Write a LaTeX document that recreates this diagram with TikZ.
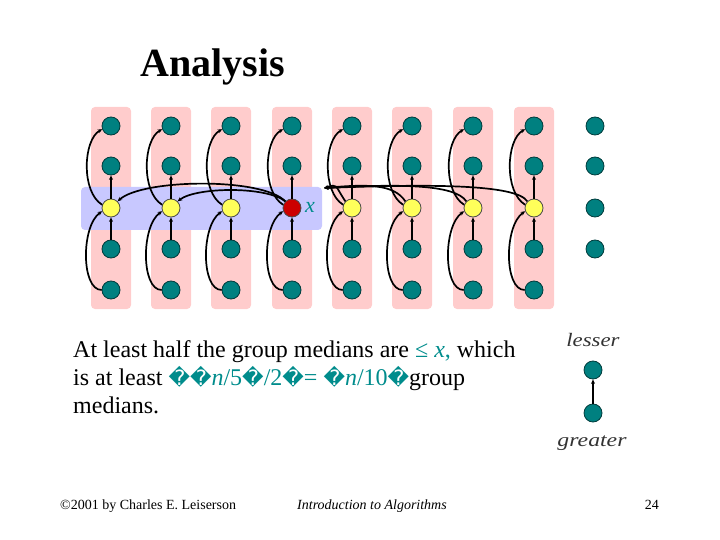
\documentclass[tikz,border=0pt]{standalone}
\usepackage{fontspec}
\setmainfont{Liberation Serif}
\newfontfamily\djv{DejaVu Sans}
\usetikzlibrary{arrows.meta}
\definecolor{tealc}{RGB}{0,128,128}
\definecolor{tealdark}{RGB}{0,60,60}
\definecolor{pinkc}{RGB}{255,204,204}
\definecolor{bandc}{RGB}{200,200,255}
\definecolor{yellowc}{RGB}{255,255,90}
\definecolor{redc}{RGB}{204,0,0}
\definecolor{txtteal}{RGB}{0,140,140}
\newcommand{\rch}{{\djv\fontsize{21}{22}\selectfont\symbol{"FFFD}}}
\begin{document}
\begin{tikzpicture}[x=1pt,y=-1pt,
  tnode/.style={circle,draw=tealdark,line width=0.8pt,fill=tealc,minimum size=18pt,inner sep=0pt},
  ynode/.style={circle,draw=black!70,line width=0.8pt,fill=yellowc,minimum size=18pt,inner sep=0pt},
  rnode/.style={circle,draw=black!70,line width=0.8pt,fill=redc,minimum size=18pt,inner sep=0pt},
  arr/.style={-{Stealth[length=4.5pt,width=4pt]},line width=1.7pt,black},
  colbox/.style={fill=pinkc,rounded corners=4pt},
  txt/.style={anchor=base west,inner sep=0pt,font=\fontsize{24}{28}\selectfont}]
\useasboundingbox (0,0) rectangle (720,540);
% title
\node[anchor=base west,inner sep=0pt,font=\fontsize{40}{44}\selectfont\bfseries] (title) at (140,77) {Analysis};
% columns
\foreach \i/\x in {1/111,2/171,3/231,4/292,5/352,6/412,7/473,8/534}{
  \fill[colbox] (\x-20,107) rectangle (\x+20,309);
}
\fill[bandc,rounded corners=4pt] (81,187) rectangle (322,230);
\foreach \i/\x in {1/111,2/171,3/231,4/292,5/352,6/412,7/473,8/534}{
  \node[tnode] (c\i r1) at (\x,126) {};
  \node[tnode] (c\i r2) at (\x,166) {};
  \ifnum\i=4
    \node[rnode] (c\i r3) at (\x,208) {};
  \else
    \node[ynode] (c\i r3) at (\x,208) {};
  \fi
  \node[tnode] (c\i r4) at (\x,249) {};
  \node[tnode] (c\i r5) at (\x,290) {};
  \draw[arr] (c\i r4) -- (c\i r3);
  \draw[arr] (c\i r3) -- (c\i r2);
  \draw[arr] (c\i r5.west) .. controls (\x-30,290) and (\x-30,226) .. (c\i r3.200);
  \draw[arr] (c\i r3.160) .. controls (\x-30,192) and (\x-28,140) .. (c\i r1.200);
}
% ninth column dots
\node[tnode] (d1) at (595,126) {};
\node[tnode] (d2) at (595,166) {};
\node[tnode] (d3) at (595,208) {};
\node[tnode] (d4) at (595,249) {};
% x label
\node[anchor=west,inner sep=0pt,text=txtteal,font=\fontsize{22}{24}\selectfont\itshape] (xl) at (305,207) {x};
% arcs from x to lesser medians
\draw[arr] (c4r3.north west) .. controls (262,177) and (142,179) .. (c1r3.north east);
\draw[arr] (c4r3.north west) .. controls (266,186) and (196,187) .. (c2r3.north east);
% arcs from greater medians
\coordinate (xe) at (324,188);
\foreach \i/\x in {5/352,6/412,7/473,8/534}{
  \draw[arr] (c\i r3.north west) .. controls (\x-18,184) and ({0.5*(\x+324)},184) .. (xe);
}
% body text
\node[txt] (l1) at (73,357) {At least half the group medians are {\color{txtteal}≤ \textit{x},} which};
\node[txt] (l2) at (73,385) {is at least {\color{txtteal}\rch\rch\textit{n}/5\rch/2\rch= \rch\textit{n}/10\rch}group};
\node[txt] (l3) at (73,413) {medians.};
% legend
\node[anchor=base,inner sep=0pt,text=black!80,font=\fontsize{19}{21}\selectfont\itshape] (lesser) at (593,346) {\scalebox{1.2}[1]{lesser}};
\node[tnode] (lg1) at (593,370) {};
\node[tnode] (lg2) at (593,413) {};
\draw[arr] (lg2) -- (lg1);
\node[anchor=base,inner sep=0pt,text=black!80,font=\fontsize{19}{21}\selectfont\itshape] (greater) at (592,446) {\scalebox{1.25}[1]{greater}};
% footer
\node[anchor=base west,inner sep=0pt,font=\fontsize{14}{16}\selectfont] (f1) at (60,509) {©2001 by Charles E. Leiserson};
\node[anchor=base west,inner sep=0pt,font=\fontsize{14}{16}\selectfont\itshape] (f2) at (297,509) {Introduction to Algorithms};
\node[anchor=base east,inner sep=0pt,font=\fontsize{14}{16}\selectfont] (f3) at (659,509) {24};
\end{tikzpicture}
\end{document}
